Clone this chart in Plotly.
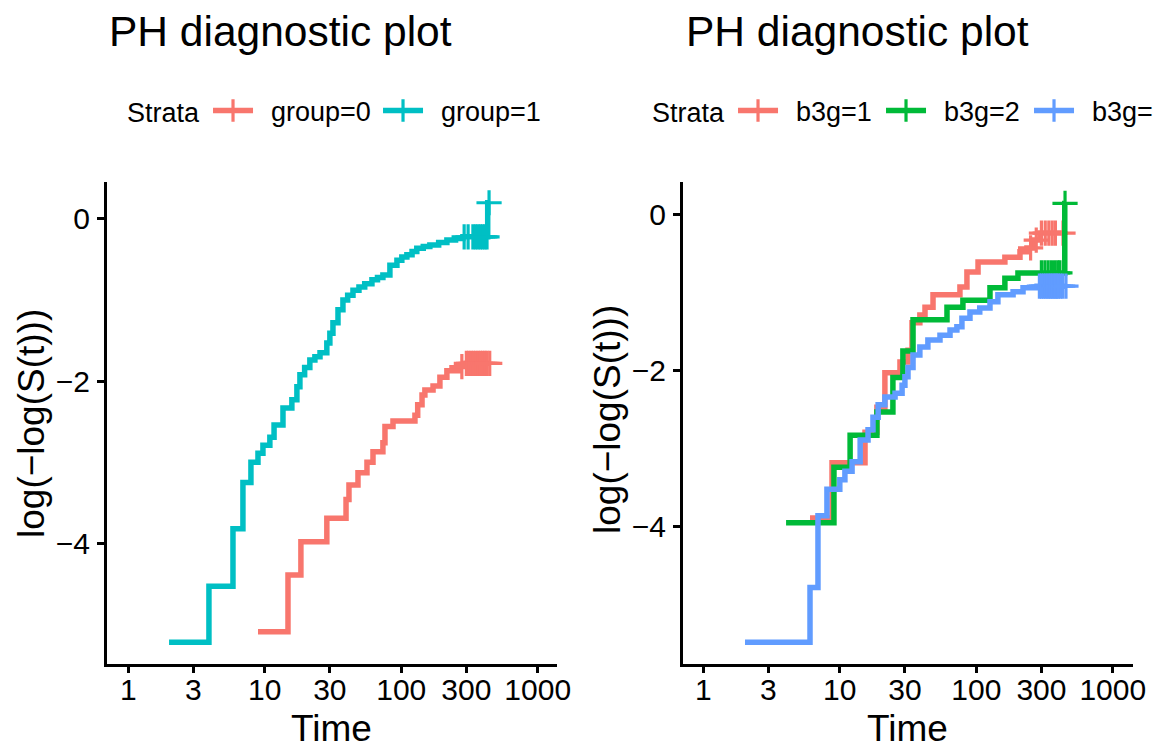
import numpy as np
import plotly.graph_objects as go

# ---------------- data ----------------
# Left panel: strata group=0 / group=1  (time, log(-log(S(t))))
g0_time = [8.92, 14.8, 18.4, 28.5, 39.4, 41.4, 48.2, 56.1, 62.1, 73.4, 76.0, 87.0,
           126, 132, 142, 149, 171, 192, 216, 269, 298]
g0_cll = [-5.09, -4.39, -3.98, -3.69, -3.46, -3.28, -3.13, -3.00, -2.87, -2.76, -2.56, -2.49,
          -2.42, -2.29, -2.17, -2.11, -2.06, -1.95, -1.87, -1.82, -1.78]
g0_cens = [278, 300, 312, 325, 338, 352, 366, 380, 395, 410, 425, 445]

g1_time = [1.99, 3.90, 5.85, 6.92, 7.92, 8.92, 9.70, 10.9, 11.7, 13.6, 15.8, 17.2, 18.1, 19.6,
           21.4, 23.3, 25.4, 28.5, 30.0, 31.6, 34.4, 37.4, 40.5, 44.3, 49, 54, 61.0, 67, 73.4,
           82.6, 93.0, 101, 110, 120, 130, 145, 162, 188, 216, 250, 283, 430]
g1_cll = [-5.22, -4.53, -3.82, -3.25, -3.00, -2.89, -2.79, -2.69, -2.54, -2.33, -2.23, -2.07,
          -1.92, -1.83, -1.74, -1.70, -1.65, -1.53, -1.41, -1.28, -1.12, -1.00, -0.94, -0.88,
          -0.84, -0.80, -0.75, -0.72, -0.69, -0.57, -0.51, -0.47, -0.44, -0.40, -0.36, -0.34,
          -0.32, -0.29, -0.26, -0.24, -0.22, 0.20]
g1_cens = [289, 309, 335, 350, 365, 380, 395, 410, 425, 440]

# Right panel: strata b3g=1 / b3g=2 / b3g=3
b1_time = [6.05, 8.77, 15.3, 18.7, 21.4, 27.6, 31.6, 33.8, 38.6, 42.1, 48.2, 75.9, 85.4,
           103, 162, 209, 235, 260, 293]
b1_cll = [-3.89, -3.18, -2.79, -2.47, -2.03, -1.89, -1.74, -1.39, -1.29, -1.19, -1.03, -0.93,
          -0.74, -0.61, -0.55, -0.48, -0.43, -0.33, -0.24]
b1_cens = [250, 275, 300, 320, 340, 360, 380, 432]

b2_time = [4.04, 9.06, 11.9, 18.7, 24.5, 29.0, 34.4, 61.0, 79.8, 126, 162, 202, 445]
b2_cll = [-3.95, -3.24, -2.83, -2.53, -2.09, -1.75, -1.35, -1.19, -1.10, -0.94, -0.82, -0.75, 0.14]
b2_cens = [300, 318, 336, 355, 375, 395, 410, 447]

b3_time = [2.02, 6.05, 6.92, 8.05, 10.0, 10.9, 12.3, 14.1, 16.1, 17.5, 19.1, 21.4, 25.4, 28.6,
           30.0, 31.6, 34.4, 38.6, 44.2, 54.2, 64.2, 72.1, 78.5, 89.9, 106, 126, 144, 186, 220, 279]
b3_cll = [-5.48, -4.78, -3.86, -3.52, -3.40, -3.29, -3.17, -2.89, -2.76, -2.60, -2.44, -2.34,
          -2.29, -2.19, -2.08, -1.96, -1.80, -1.70, -1.61, -1.55, -1.48, -1.44, -1.33, -1.25,
          -1.20, -1.12, -1.03, -0.99, -0.94, -0.92]
b3_cens = [290, 300, 310, 320, 330, 340, 350, 360, 370, 380, 390, 400, 415, 430, 454]

x_tickvals = [1, 3, 10, 30, 100, 300, 1000]
x_ticktext = ["1", "3", "10", "30", "100", "300", "1000"]
y_tickvals = [-4, -2, 0]
y_ticktext = ["\u22124", "\u22122", "0"]

title_text = "PH diagnostic plot"
left_strata = ["group=0", "group=1"]
right_strata = ["b3g=1", "b3g=2", "b3g=3"]

# ---------------- style ----------------
RED, TEAL = "#F8766D", "#00BFC4"
GREEN, BLUE = "#00BA38", "#619CFF"
FONT = "Liberation Sans, Arial, Helvetica, sans-serif"
LW = 5.5
CROSS = 18
PAD = "\u00a0\u2009"  # small gap between legend key and its label

W, H = 1153, 747


def step_trace(times, levels, cens, color, xa, ya):
    t = np.asarray(times, float)
    v = np.asarray(levels, float)
    c = np.asarray(cens, float)
    xs = list(t)
    ys = list(v)
    if c.size and c.max() > t[-1]:
        xs.append(c.max())
        ys.append(v[-1])
    line = go.Scatter(x=xs, y=ys, mode="lines", line=dict(color=color, width=LW, shape="hv"),
                      xaxis=xa, yaxis=ya, showlegend=False, hoverinfo="skip")
    idx = np.searchsorted(t, c, side="right") - 1
    cy = v[np.clip(idx, 0, None)]
    marks = go.Scatter(x=c, y=cy, mode="markers",
                       marker=dict(symbol="cross-thin", size=CROSS, color=color,
                                   line=dict(color=color, width=3.2)),
                       xaxis=xa, yaxis=ya, showlegend=False, hoverinfo="skip")
    return [line, marks]


def legend_entry(name, color, legend):
    return go.Scatter(x=[None], y=[None], mode="lines+markers", name=PAD + name,
                      line=dict(color=color, width=LW),
                      marker=dict(symbol="cross-thin", size=CROSS, color=color,
                                  line=dict(color=color, width=3.2)),
                      legend=legend, xaxis="x", yaxis="y")


fig = go.Figure()
for tr in step_trace(g0_time, g0_cll, g0_cens, RED, "x", "y"):
    fig.add_trace(tr)
for tr in step_trace(g1_time, g1_cll, g1_cens, TEAL, "x", "y"):
    fig.add_trace(tr)
for tr in step_trace(b1_time, b1_cll, b1_cens, RED, "x2", "y2"):
    fig.add_trace(tr)
for tr in step_trace(b2_time, b2_cll, b2_cens, GREEN, "x2", "y2"):
    fig.add_trace(tr)
for tr in step_trace(b3_time, b3_cll, b3_cens, BLUE, "x2", "y2"):
    fig.add_trace(tr)

fig.add_trace(legend_entry(left_strata[0], RED, "legend"))
fig.add_trace(legend_entry(left_strata[1], TEAL, "legend"))
fig.add_trace(legend_entry(right_strata[0], RED, "legend2"))
fig.add_trace(legend_entry(right_strata[1], GREEN, "legend2"))
fig.add_trace(legend_entry(right_strata[2], BLUE, "legend2"))

# plot-area geometry (pixels) -> paper
L1, R1 = 106.7, 556.7
L2, R2 = 682.7, 1132.7
TOP, BOT = 182.0, 663.5
ydom = [1 - BOT / H, 1 - TOP / H]

xaxis_common = dict(type="log", showgrid=False, zeroline=False, showline=True,
                    linecolor="black", linewidth=2.5, ticks="outside", ticklen=7,
                    tickwidth=2.5, tickcolor="black", tickvals=x_tickvals,
                    ticktext=x_ticktext, tickfont=dict(family=FONT, size=30, color="black"),
                    ticklabelstandoff=-9, mirror=False)
yaxis_common = dict(showgrid=False, zeroline=False, showline=True, linecolor="black",
                    linewidth=2.5, ticks="outside", ticklen=7, tickwidth=2.5,
                    tickcolor="black", tickvals=y_tickvals, ticktext=y_ticktext,
                    tickfont=dict(family=FONT, size=30, color="black"),
                    ticklabelstandoff=1, mirror=False)

legend_common = dict(orientation="h", xanchor="left", y=1 - 111 / H, yanchor="middle",
                     title=dict(text="Strata", side="left", font=dict(size=27, family=FONT)),
                     font=dict(size=27, family=FONT), itemwidth=40,
                     bgcolor="rgba(0,0,0,0)", traceorder="normal")

fig.update_layout(
    width=W, height=H,
    margin=dict(l=0, r=0, t=0, b=0, autoexpand=False),
    paper_bgcolor="white", plot_bgcolor="white",
    font=dict(family=FONT, color="black"),
    xaxis=dict(domain=[L1 / W, R1 / W], range=[-0.158, 3.139], anchor="y", **xaxis_common),
    yaxis=dict(domain=ydom, range=[-5.481, 0.456], anchor="x", **yaxis_common),
    xaxis2=dict(domain=[L2 / W, R2 / W], range=[-0.151, 3.146], anchor="y2", **xaxis_common),
    yaxis2=dict(domain=ydom, range=[-5.752, 0.414], anchor="x2", **yaxis_common),
    legend=dict(x=125 / W, entrywidth=115, **legend_common),
    legend2=dict(x=650 / W, entrywidth=93, **legend_common),
)

annots = [
    dict(text=title_text, x=107 / W, y=1 - 32 / H, xanchor="left", yanchor="middle",
         font=dict(size=42.5, family=FONT)),
    dict(text=title_text, x=684 / W, y=1 - 32 / H, xanchor="left", yanchor="middle",
         font=dict(size=42.5, family=FONT)),
    dict(text="Time", x=(L1 + R1) / 2 / W, y=1 - 728 / H, xanchor="center", yanchor="middle",
         height=36, valign="middle", font=dict(size=37, family=FONT)),
    dict(text="Time", x=(L2 + R2) / 2 / W, y=1 - 728 / H, xanchor="center", yanchor="middle",
         height=36, valign="middle", font=dict(size=37, family=FONT)),
    dict(text="log(\u2212log(S(t)))", x=32 / W, y=1 - 424 / H, xanchor="center",
         yanchor="middle", textangle=-90, font=dict(size=37, family=FONT)),
    dict(text="log(\u2212log(S(t)))", x=607 / W, y=1 - 420 / H, xanchor="center",
         yanchor="middle", textangle=-90, font=dict(size=37, family=FONT)),
]
for a in annots:
    a.update(xref="paper", yref="paper", showarrow=False)
fig.update_layout(annotations=annots)

fig.write_html("out.html", config={"displayModeBar": False},
               post_script="document.body.style.margin='0';")
